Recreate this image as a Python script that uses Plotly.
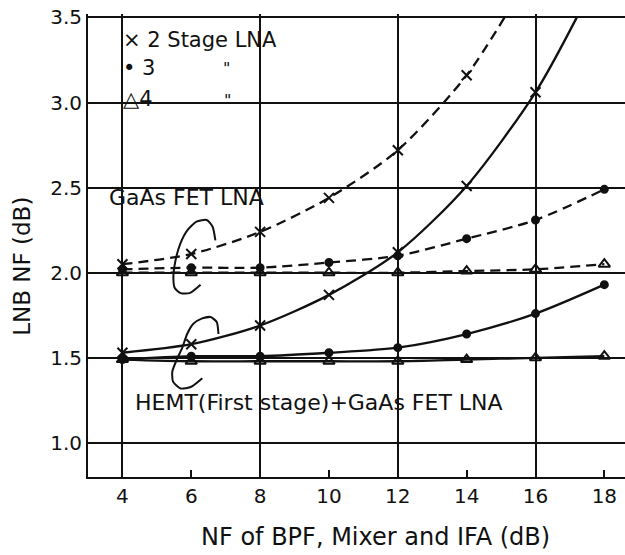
import plotly.graph_objects as go

# ---- data ----
nf_ifa = [4, 6, 8, 10, 12, 14, 16, 18]

# GaAs FET LNA (dashed curves)
gaas_2 = [2.05, 2.11, 2.24, 2.44, 2.72, 3.16]          # 4..14, curve leaves top near x=15.1
gaas_2_exit_x = 15.1
gaas_3 = [2.02, 2.03, 2.03, 2.06, 2.10, 2.20, 2.31, 2.49]
gaas_4 = [2.00, 2.00, 2.00, 2.00, 2.00, 2.01, 2.02, 2.05]

# HEMT (first stage) + GaAs FET LNA (solid curves)
hemt_2 = [1.53, 1.58, 1.69, 1.87, 2.12, 2.51, 3.06]    # 4..16, curve leaves top near x=17.2
hemt_2_exit_x = 17.2
hemt_3 = [1.49, 1.51, 1.51, 1.53, 1.56, 1.64, 1.76, 1.93]
hemt_4 = [1.49, 1.48, 1.48, 1.48, 1.48, 1.49, 1.50, 1.51]

x_ticks = [4, 6, 8, 10, 12, 14, 16, 18]
x_grid = [4, 8, 12, 16]
y_ticks = [1.0, 1.5, 2.0, 2.5, 3.0, 3.5]
y_top = 3.5

# bracket loops (annotation strokes)
loop_up_x = [6.70, 6.62, 6.45, 6.15, 5.89, 5.68, 5.54, 5.48, 5.52, 5.69, 5.95, 6.27]
loop_up_y = [2.19, 2.27, 2.31, 2.30, 2.25, 2.17, 2.07, 1.97, 1.91, 1.88, 1.88, 1.93]
loop_lo_x = [6.79, 6.74, 6.56, 6.30, 6.06, 5.88, 5.74, 5.58, 5.45, 5.47, 5.69, 6.00, 6.32]
loop_lo_y = [1.64, 1.71, 1.74, 1.73, 1.70, 1.64, 1.56, 1.49, 1.42, 1.36, 1.32, 1.33, 1.38]

FONT = "DejaVu Sans"
BLACK = "#111111"

fig = go.Figure()

def curve(xs, ys, dash):
    fig.add_trace(go.Scatter(x=xs, y=ys, mode="lines",
                             line=dict(color=BLACK, width=2.3, dash=dash, shape="spline", smoothing=0.8),
                             hoverinfo="skip", showlegend=False))

def marks(xs, ys, symbol, size):
    fig.add_trace(go.Scatter(x=xs, y=ys, mode="markers",
                             marker=dict(symbol=symbol, size=size, color=BLACK,
                                         line=dict(color=BLACK, width=2)),
                             showlegend=False))

dash_pat = "10px,6px"
# GaAs FET LNA
curve(nf_ifa[:len(gaas_2)] + [gaas_2_exit_x], gaas_2 + [y_top], dash_pat)
curve(nf_ifa, gaas_3, dash_pat)
curve(nf_ifa, gaas_4, dash_pat)
# HEMT
curve(nf_ifa[:len(hemt_2)] + [hemt_2_exit_x], hemt_2 + [y_top], "solid")
curve(nf_ifa, hemt_3, "solid")
curve(nf_ifa, hemt_4, "solid")

marks(nf_ifa[:len(gaas_2)], gaas_2, "x-thin", 10)
marks(nf_ifa, gaas_3, "circle", 7)
marks(nf_ifa, gaas_4, "triangle-up-open", 10)
marks(nf_ifa[:len(hemt_2)], hemt_2, "x-thin", 10)
marks(nf_ifa, hemt_3, "circle", 7)
marks(nf_ifa, hemt_4, "triangle-up-open", 10)

for lx, ly in ((loop_up_x, loop_up_y), (loop_lo_x, loop_lo_y)):
    fig.add_trace(go.Scatter(x=lx, y=ly, mode="lines",
                             line=dict(color=BLACK, width=2, shape="spline", smoothing=0.6),
                             hoverinfo="skip", showlegend=False))

# vertical grid lines on an overlay axis
fig.add_trace(go.Scatter(x=[None], y=[None], xaxis="x2", showlegend=False))

def txt(x, y, s, size=22, anchor="left", ref="x"):
    fig.add_annotation(x=x, y=y, xref=ref, yref="y", text=s, showarrow=False,
                       xanchor=anchor, yanchor="middle",
                       font=dict(family=FONT, size=size, color=BLACK))

txt(3.95, 3.365, "× 2 Stage LNA", size=21)
txt(3.95, 3.20, "• 3", size=21)
txt(6.85, 3.20, "\"", size=16)
txt(3.95, 3.02, "△4", size=21)
txt(6.9, 3.01, "\"", size=16)
txt(3.55, 2.44, "GaAs FET LNA")
txt(4.3, 1.235, "HEMT(First stage)+GaAs FET LNA")

# axis titles
fig.add_annotation(x=0.536, y=-0.13, xref="paper", yref="paper", showarrow=False,
                   text="NF of BPF, Mixer and IFA (dB)", xanchor="center", yanchor="middle",
                   font=dict(family=FONT, size=24, color=BLACK))
fig.add_annotation(x=-0.123, y=0.456, xref="paper", yref="paper", showarrow=False,
                   text="LNB NF (dB)", textangle=-90, xanchor="center", yanchor="middle",
                   font=dict(family=FONT, size=23, color=BLACK))

fig.update_layout(
    width=625, height=555, autosize=False,
    margin=dict(l=88, r=0, t=14, b=78),
    paper_bgcolor="white", plot_bgcolor="white",
    font=dict(family=FONT, size=20, color=BLACK),
    xaxis=dict(range=[3.0, 18.6], tickvals=x_ticks, ticktext=[str(v) for v in x_ticks],
               showgrid=False, zeroline=False, showline=True, mirror=False,
               linecolor=BLACK, linewidth=2, ticks="inside", ticklen=7,
               tickcolor=BLACK, tickwidth=1.5, automargin=False,
               tickfont=dict(family=FONT, size=20)),
    xaxis2=dict(range=[3.0, 18.6], overlaying="x", tickvals=x_grid, showticklabels=False,
                showgrid=True, gridcolor=BLACK, gridwidth=1.8, zeroline=False, showline=False,
                automargin=False),
    yaxis=dict(range=[0.8, 3.52], tickvals=y_ticks, tickformat=".1f",
               showgrid=True, gridcolor=BLACK, gridwidth=1.8, zeroline=False,
               showline=True, linecolor=BLACK, linewidth=2, ticks="", automargin=False,
               ticklabeloverflow="allow",
               tickfont=dict(family=FONT, size=20)),
)

# remove the browser's default 8px page margin so the figure fills the window
fig.write_html("out.html", config={"displayModeBar": False},
               post_script="document.body.style.margin='0';")
